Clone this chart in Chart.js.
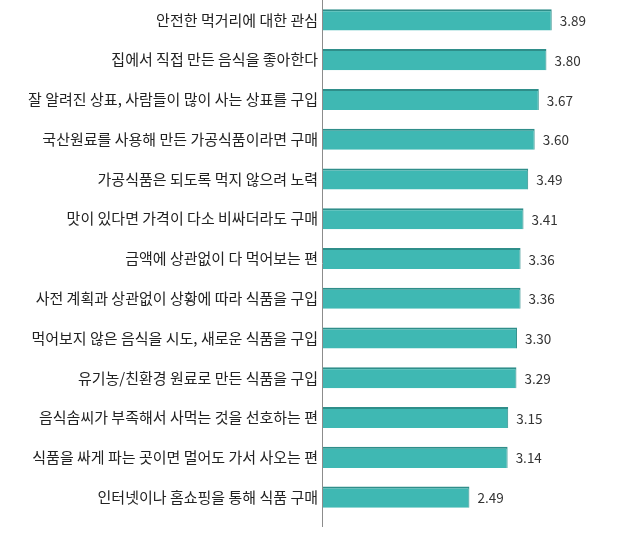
<!DOCTYPE html>
<html><head><meta charset="utf-8">
<script src="https://cdn.jsdelivr.net/npm/chart.js@4"></script>
<style>html,body{margin:0;padding:0;background:#fff;}canvas{display:block;}</style>
</head><body>
<canvas id="c" width="620" height="537"></canvas>
<script>
const categories = [
  "안전한 먹거리에 대한 관심",
  "집에서 직접 만든 음식을 좋아한다",
  "잘 알려진 상표, 사람들이 많이 사는 상표를 구입",
  "국산원료를 사용해 만든 가공식품이라면 구매",
  "가공식품은 되도록 먹지 않으려 노력",
  "맛이 있다면 가격이 다소 비싸더라도 구매",
  "금액에 상관없이 다 먹어보는 편",
  "사전 계획과 상관없이 상황에 따라 식품을 구입",
  "먹어보지 않은 음식을 시도, 새로운 식품을 구입",
  "유기농/친환경 원료로 만든 식품을 구입",
  "음식솜씨가 부족해서 사먹는 것을 선호하는 편",
  "식품을 싸게 파는 곳이면 멀어도 가서 사오는 편",
  "인터넷이나 홈쇼핑을 통해 식품 구매"
];
const values = [3.89, 3.80, 3.67, 3.60, 3.49, 3.41, 3.36, 3.36, 3.30, 3.29, 3.15, 3.14, 2.49];

const FONT = "'Noto Sans CJK KR', 'Noto Sans', sans-serif";

const valueLabels = {
  id: 'valueLabels',
  afterDatasetsDraw(chart) {
    const ctx = chart.ctx;
    const meta = chart.getDatasetMeta(0);
    ctx.save();
    ctx.font = "13.5px " + FONT;
    ctx.fillStyle = '#333';
    ctx.textAlign = 'left';
    ctx.textBaseline = 'middle';
    meta.data.forEach((bar, i) => {
      ctx.fillText(values[i].toFixed(2), bar.x + 8, bar.y + 1);
    });
    ctx.restore();
  }
};
const axisLine = {
  id: 'axisLine',
  afterDatasetsDraw(chart) {
    const ctx = chart.ctx;
    const x = Math.round(chart.scales.x.getPixelForValue(0)) - 0.5;
    ctx.save();
    ctx.strokeStyle = '#8c8c8c';
    ctx.lineWidth = 1;
    ctx.beginPath();
    ctx.moveTo(x, 0);
    ctx.lineTo(x, chart.chartArea.bottom + 10);
    ctx.stroke();
    ctx.restore();
  }
};

new Chart(document.getElementById('c'), {
  type: 'bar',
  data: {
    labels: categories,
    datasets: [{
      data: values,
      backgroundColor: '#3fb8b3',
      borderColor: '#2f8e8a',
      borderWidth: {top: 2, right: 1, bottom: 0, left: 0},
      borderSkipped: false,
      categoryPercentage: 1,
      barPercentage: 0.53
    }]
  },
  options: {
    indexAxis: 'y',
    responsive: false,
    animation: false,
    events: [],
    layout: {padding: {top: -2, bottom: 20, left: 0, right: 3}},
    plugins: {legend: {display: false}, tooltip: {enabled: false}},
    scales: {
      x: {display: false, min: 0, max: 5},
      y: {
        afterFit(s) { s.width = 323; s.paddingTop = 0; s.paddingBottom = 0; },
        grid: {display: false, drawTicks: false},
        border: {display: false},
        ticks: {
          color: '#222',
          padding: 5,
          autoSkip: false,
          font: {family: FONT, size: 15}
        }
      }
    }
  },
  plugins: [valueLabels, axisLine]
});
</script>
</body></html>
